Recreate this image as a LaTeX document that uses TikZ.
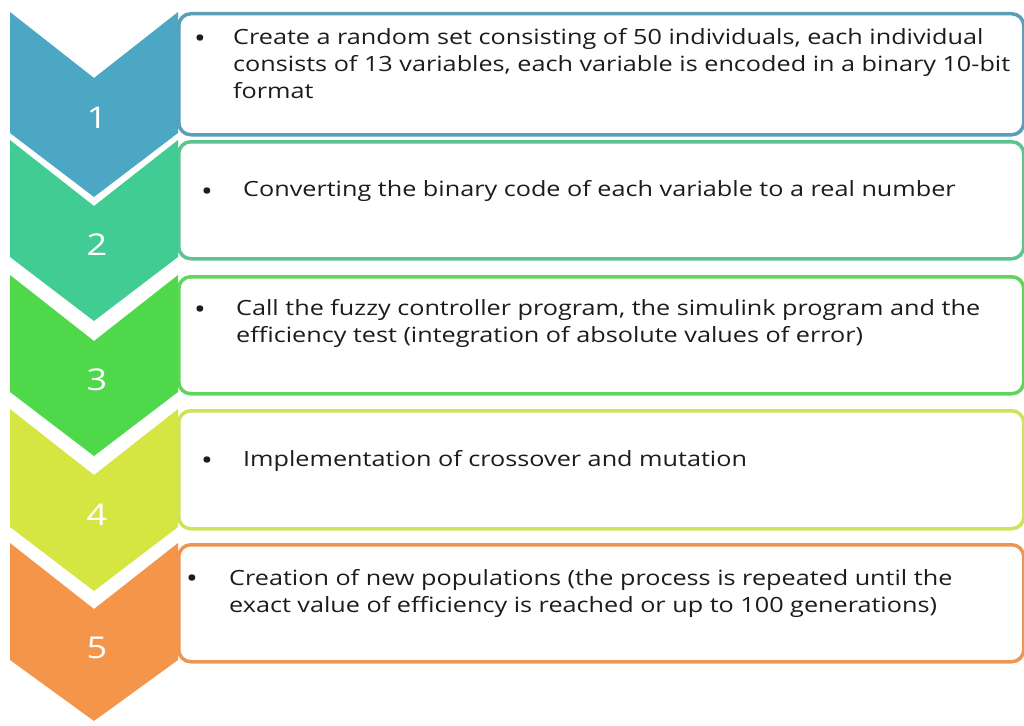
\documentclass[tikz,border=0pt]{standalone}
\usepackage{fontspec}
\setmainfont{Open Sans}
\newfontfamily\stepfont[FakeStretch=1.2]{Open Sans}
\usetikzlibrary{positioning}

\definecolor{fill1}{HTML}{4BA7C4}
\definecolor{fill2}{HTML}{41CC94}
\definecolor{fill3}{HTML}{50D84B}
\definecolor{fill4}{HTML}{D5E643}
\definecolor{fill5}{HTML}{F5954A}
\definecolor{line1}{HTML}{5A9FB8}
\definecolor{line2}{HTML}{5CC491}
\definecolor{line3}{HTML}{5ED659}
\definecolor{line4}{HTML}{CDE35C}
\definecolor{line5}{HTML}{EC9656}
\definecolor{ink}{HTML}{1C1C1C}

\tikzset{
  stepbox/.style={rectangle,rounded corners=12pt,line width=3.5pt,fill=white,
    minimum width=845pt,anchor=north west,inner sep=0pt},
  steptext/.style={align=left,anchor=north west,inner sep=0pt,text=ink,
    font=\stepfont\fontsize{21}{27}\selectfont},
  stepdot/.style={inner sep=0pt,text=ink,font=\stepfont\fontsize{26}{30}\selectfont},
  stepnum/.style={text=white,font=\stepfont\fontsize{30}{34}\selectfont},
}

\begin{document}
\begin{tikzpicture}[x=1pt,y=-1pt]
  \useasboundingbox (0,0) rectangle (1024,725);
  % boxes
  \node(box1)[stepbox,draw=line1,minimum height=121pt] at (177,12){};
  \node(box2)[stepbox,draw=line2,minimum height=117pt] at (177,140){};
  \node(box3)[stepbox,draw=line3,minimum height=117pt] at (177,275){};
  \node(box4)[stepbox,draw=line4,minimum height=118pt] at (177,409){};
  \node(box5)[stepbox,draw=line5,minimum height=117pt] at (177,543){};
  % chevrons
  \fill[fill1] (10,12) -- (94,78) -- (178,12) -- (178,133) -- (94,197) -- (10,133) -- cycle;
  \fill[fill2] (10,140) -- (94,206) -- (178,140) -- (178,257) -- (94,321) -- (10,257) -- cycle;
  \fill[fill3] (10,275) -- (94,341) -- (178,275) -- (178,392) -- (94,456) -- (10,392) -- cycle;
  \fill[fill4] (10,409) -- (94,475) -- (178,409) -- (178,527) -- (94,591) -- (10,527) -- cycle;
  \fill[fill5] (10,543) -- (94,609) -- (178,543) -- (178,660) -- (94,721) -- (10,660) -- cycle;
  % numbers
  \node(num1)[stepnum] at (97,118){1};
  \node(num2)[stepnum] at (97,245){2};
  \node(num3)[stepnum] at (97,380){3};
  \node(num4)[stepnum] at (97,515){4};
  \node(num5)[stepnum] at (97,648){5};
  % texts
  \node(dot1)[stepdot] at (200,41){\textbullet};
  \node(text1)[steptext] at (233,28){Create a random set consisting of 50 individuals, each individual\\
    consists of 13 variables, each variable is encoded in a binary 10-bit\\format};
  \node(dot2)[stepdot] at (207,194){\textbullet};
  \node(text2)[steptext] at (243,180){Converting the binary code of each variable to a real number};
  \node(dot3)[stepdot] at (200,312){\textbullet};
  \node(text3)[steptext] at (236,299){Call the fuzzy controller program, the simulink program and the\\
    efficiency test (integration of absolute values of error)};
  \node(dot4)[stepdot] at (207,463){\textbullet};
  \node(text4)[steptext] at (243,450){Implementation of crossover and mutation};
  \node(dot5)[stepdot] at (192,581){\textbullet};
  \node(text5)[steptext] at (229,569){Creation of new populations (the process is repeated until the\\
    exact value of efficiency is reached or up to 100 generations)};
\end{tikzpicture}
\end{document}
